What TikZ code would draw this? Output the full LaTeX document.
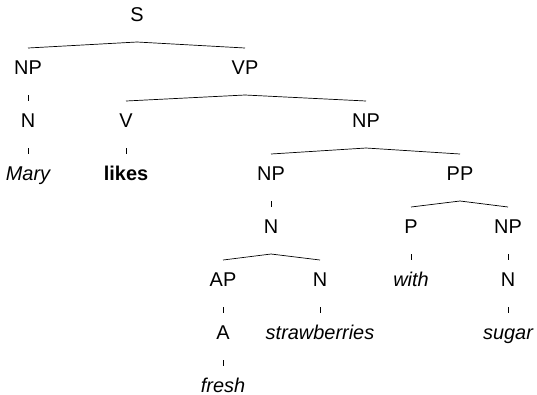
\documentclass[tikz,border=0pt]{standalone}
\usepackage{fontspec}
\setmainfont{Liberation Sans}
\usepackage{tikz}
\usetikzlibrary{positioning}

\begin{document}
\begin{tikzpicture}[
    x=1bp, y=-1bp,
    cat/.style={anchor=base, inner sep=0pt, font=\fontsize{20}{24}\selectfont},
    word/.style={cat, font=\fontsize{20}{24}\selectfont\itshape},
    branch/.style={line width=0.7bp}
    ]
    
    \useasboundingbox (0,0) rectangle (537,394);
    
    % categorias
    \node[cat] (s) at (137,21) {S};
    
    \node[cat] (np-a) at (28,74) {NP};
    \node[cat] (vp) at (245,74) {VP};
    
    \node[cat] (n-a) at (28,127) {N};
    \node[cat] (v) at (126,127) {V};
    \node[cat] (np-b) at (366,127) {NP};
    
    \node[word] (mary) at (28,180) {Mary};
    \node[cat, font=\fontsize{20}{24}\selectfont\bfseries] (likes) at (126,180) {likes};
    \node[cat] (np-c) at (271,180) {NP};
    \node[cat] (pp) at (460,180) {PP};
    
    \node[cat] (n-b) at (271,233) {N};
    \node[cat] (p) at (411,233) {P};
    \node[cat] (np-d) at (508,233) {NP};
    
    \node[cat] (ap) at (223,286) {AP};
    \node[cat] (n-c) at (320,286) {N};
    \node[word] (with) at (411,286) {with};
    \node[cat] (n-d) at (508,286) {N};
    
    \node[cat] (a) at (223,339) {A};
    \node[word] (straw) at (320,339) {strawberries};
    \node[word] (sugar) at (508,339) {sugar};
    
    \node[word] (fresh) at (223,392) {fresh};
    
    % ramos
    \foreach \p/\c in {s/np-a, s/vp, np-a/n-a, vp/v, vp/np-b,
        n-a/mary, v/likes, np-b/np-c, np-b/pp, np-c/n-b,
        pp/p, pp/np-d, n-b/ap, n-b/n-c, p/with, np-d/n-d,
        ap/a, n-c/straw, n-d/sugar, a/fresh}
    \draw[branch] ([yshift=-21bp]\p.base) -- ([yshift=26bp]\c.base);
    
\end{tikzpicture}
\end{document}
